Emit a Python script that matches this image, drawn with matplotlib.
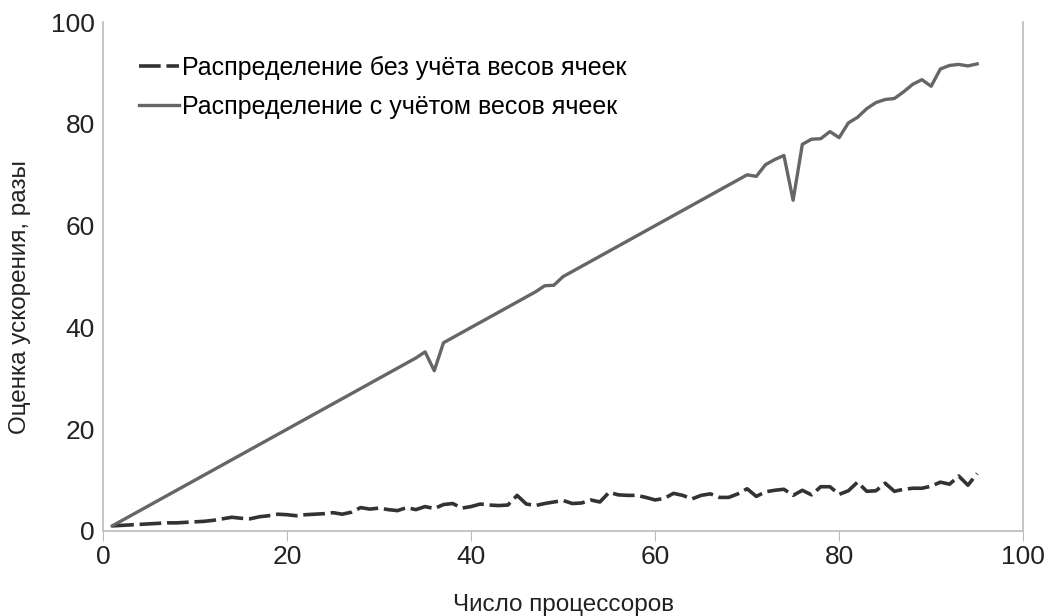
import matplotlib.pyplot as plt

plt.rcParams['font.family'] = ['Liberation Sans', 'DejaVu Sans']

procs = list(range(1, 96))

no_weights = [1.0, 1.1, 1.2, 1.3, 1.4, 1.5, 1.6, 1.6, 1.7, 1.8,
              1.9, 2.1, 2.4, 2.7, 2.5, 2.4, 2.8, 3.0, 3.3, 3.2,
              3.0, 3.2, 3.3, 3.4, 3.6, 3.3, 3.7, 4.6, 4.3, 4.5,
              4.2, 4.0, 4.6, 4.2, 4.8, 4.4, 5.2, 5.4, 4.5, 4.8,
              5.3, 5.1, 5.0, 5.1, 7.0, 5.3, 5.0, 5.4, 5.7, 6.0,
              5.4, 5.5, 6.1, 5.7, 7.6, 7.1, 7.0, 7.0, 6.6, 6.1,
              6.4, 7.4, 7.0, 6.3, 7.0, 7.3, 6.6, 6.6, 7.3, 8.3,
              6.8, 7.7, 8.0, 8.2, 7.0, 8.0, 7.1, 8.7, 8.7, 7.2,
              7.9, 9.6, 7.8, 7.9, 9.4, 7.8, 8.2, 8.4, 8.4, 8.8,
              9.6, 9.2, 10.8, 9.0, 11.3]

with_weights = [1.0, 2.0, 3.0, 4.0, 5.0, 6.0, 7.0, 8.0, 9.0, 10.0,
                11.0, 12.0, 13.0, 14.0, 15.0, 16.0, 17.0, 18.0, 19.0, 20.0,
                21.0, 22.0, 23.0, 24.0, 25.0, 26.0, 27.0, 28.0, 29.0, 30.0,
                31.0, 32.0, 33.0, 34.0, 35.2, 31.5, 37.0, 38.0, 39.0, 40.0,
                41.0, 42.0, 43.0, 44.0, 45.0, 46.0, 47.0, 48.2, 48.3, 50.0,
                51.0, 52.0, 53.0, 54.0, 55.0, 56.0, 57.0, 58.0, 59.0, 60.0,
                61.0, 62.0, 63.0, 64.0, 65.0, 66.0, 67.0, 68.0, 69.0, 70.0,
                69.7, 72.0, 73.0, 73.8, 65.0, 76.0, 77.0, 77.1, 78.5, 77.3,
                80.2, 81.3, 83.0, 84.2, 84.8, 85.0, 86.3, 87.8, 88.7, 87.4,
                90.8, 91.5, 91.7, 91.4, 91.8]

fig = plt.figure(figsize=(10.48, 6.16), dpi=100)
ax = fig.add_axes([0.0983, 0.138, 0.878, 0.826])

ax.plot(procs, no_weights, color='#333333', linewidth=2.6, dashes=(6, 1.6),
        label='Распределение без учёта весов ячеек')
ax.plot(procs, with_weights, color='#666666', linewidth=2.4,
        label='Распределение с учётом весов ячеек')

ax.set_xlim(0, 100)
ax.set_ylim(0, 100)
ax.set_xticks([0, 20, 40, 60, 80, 100])
ax.set_yticks([0, 20, 40, 60, 80, 100])

ax.spines['top'].set_visible(False)
for side in ['left', 'bottom', 'right']:
    ax.spines[side].set_color('#bbbbbb')
    ax.spines[side].set_linewidth(1.2)
ax.tick_params(axis='both', direction='out', length=7, color='#bbbbbb',
               labelsize=19, labelcolor='#222222')
ax.tick_params(axis='y', length=0, pad=6)
ax.tick_params(axis='x', pad=3)

ax.set_xlabel('Число процессоров', fontsize=17.5, labelpad=18, color='#222222')
ax.set_ylabel('Оценка ускорения, разы', fontsize=17.5, color='#222222')
ax.yaxis.set_label_coords(-0.078, 0.46)

ax.legend(loc='upper left', bbox_to_anchor=(0.015, 0.978), frameon=False,
          fontsize=18, handlelength=1.6, handletextpad=0.1, labelspacing=0.6)

plt.savefig('out.png', dpi=100)
